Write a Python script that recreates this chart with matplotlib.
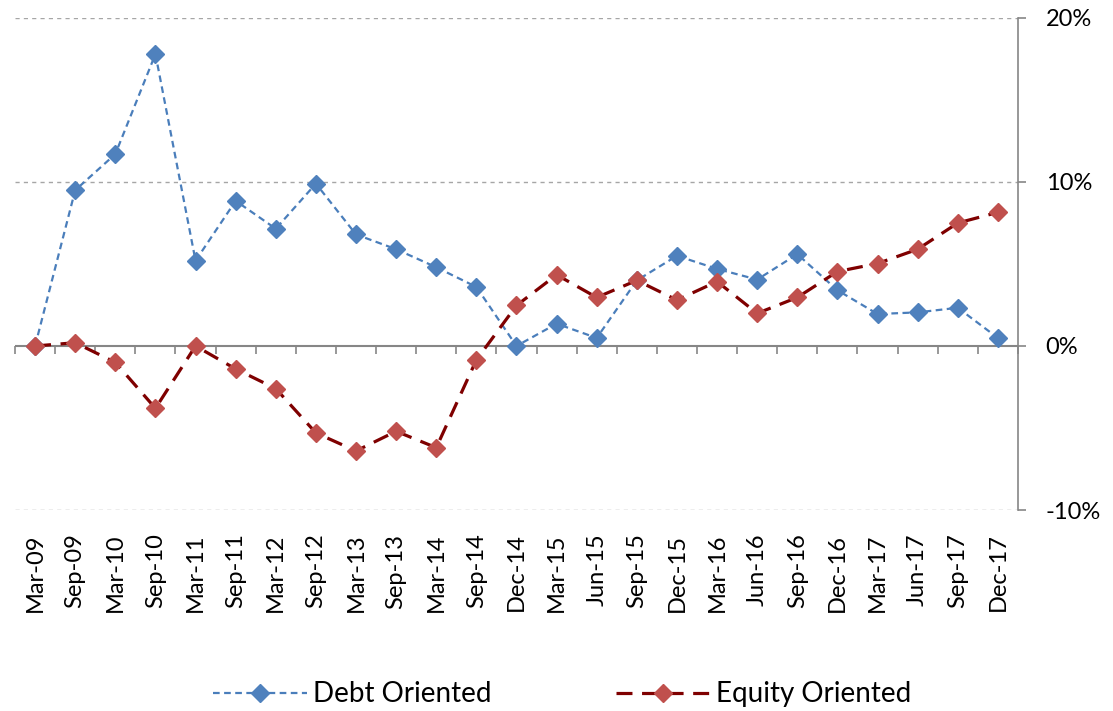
import matplotlib
matplotlib.use("Agg")
import numpy as np
import matplotlib.pyplot as plt
from matplotlib.ticker import FuncFormatter

plt.rcParams['font.family'] = ['Lato', 'DejaVu Sans']

periods = ["Mar-09", "Sep-09", "Mar-10", "Sep-10", "Mar-11", "Sep-11", "Mar-12",
           "Sep-12", "Mar-13", "Sep-13", "Mar-14", "Sep-14", "Dec-14", "Mar-15",
           "Jun-15", "Sep-15", "Dec-15", "Mar-16", "Jun-16", "Sep-16", "Dec-16",
           "Mar-17", "Jun-17", "Sep-17", "Dec-17"]

debt = [0.0, 9.5, 11.7, 17.8, 5.2, 8.85, 7.15, 9.9, 6.8, 5.9, 4.8, 3.6, 0.0,
        1.36, 0.49, 4.0, 5.5, 4.7, 4.05, 5.6, 3.4, 1.95, 2.05, 2.33, 0.49]

equity = [0.0, 0.2, -1.0, -3.8, 0.0, -1.4, -2.6, -5.3, -6.4, -5.2, -6.2, -0.85,
          2.47, 4.34, 2.96, 4.0, 2.8, 3.93, 1.99, 2.96, 4.54, 5.03, 5.9, 7.5, 8.15]

y_ticks = [-10, 0, 10, 20]

x = np.arange(len(periods))

fig = plt.figure(figsize=(11.13, 7.11), dpi=100)
ax = fig.add_axes([0.0135, 0.2827, 0.9011, 0.692])

grey = '#868686'
for yv in y_ticks:
    if yv != 0:
        ax.axhline(yv, color='#a6a6a6', lw=1, ls=(0, (3, 3)), zorder=0)
ax.axhline(0, color=grey, lw=1.5, zorder=1)

ax.plot(x, debt, color='#4A7EBB', lw=1.6, ls=(0, (3, 2)), marker='D', ms=9.5,
        mfc='#4F81BD', mec='#4F81BD', label='Debt Oriented', zorder=3)
ax.plot(x, equity, color='#7F0000', lw=2.3, ls=(0, (5, 3)), marker='D', ms=9.5,
        mfc='#C0504D', mec='#C0504D', label='Equity Oriented', zorder=3)

ax.set_xlim(-0.5, len(periods) - 0.5)
ax.set_ylim(-10, 20)

for s in ['top', 'left', 'bottom']:
    ax.spines[s].set_visible(False)
ax.spines['right'].set_color(grey)
ax.spines['right'].set_linewidth(1.2)

ax.yaxis.tick_right()
ax.set_yticks(y_ticks)
ax.yaxis.set_major_formatter(FuncFormatter(lambda v, p: f"{v:.0f}%"))
ax.tick_params(axis='y', length=6, width=1.2, color=grey, labelsize=17, pad=14)

ax.set_xticks(x)
ax.set_xticklabels(periods, rotation=90, fontsize=17)
ax.tick_params(axis='x', length=0, pad=17)

# tick marks along the zero line, between categories
zero_frac = (0 - (-10)) / 30
sec = ax.secondary_xaxis(zero_frac)
sec.spines['bottom'].set_visible(False)
sec.set_xticks(np.arange(len(periods) + 1) - 0.5)
sec.set_xticklabels([])
sec.tick_params(axis='x', length=6, width=1.2, color=grey)

fig.legend(loc='lower center', bbox_to_anchor=(0.505, -0.03), ncol=2, frameon=False,
           fontsize=20, handlelength=3.4, handletextpad=0.2, columnspacing=4.5)

fig.savefig('out.png', dpi=100)
